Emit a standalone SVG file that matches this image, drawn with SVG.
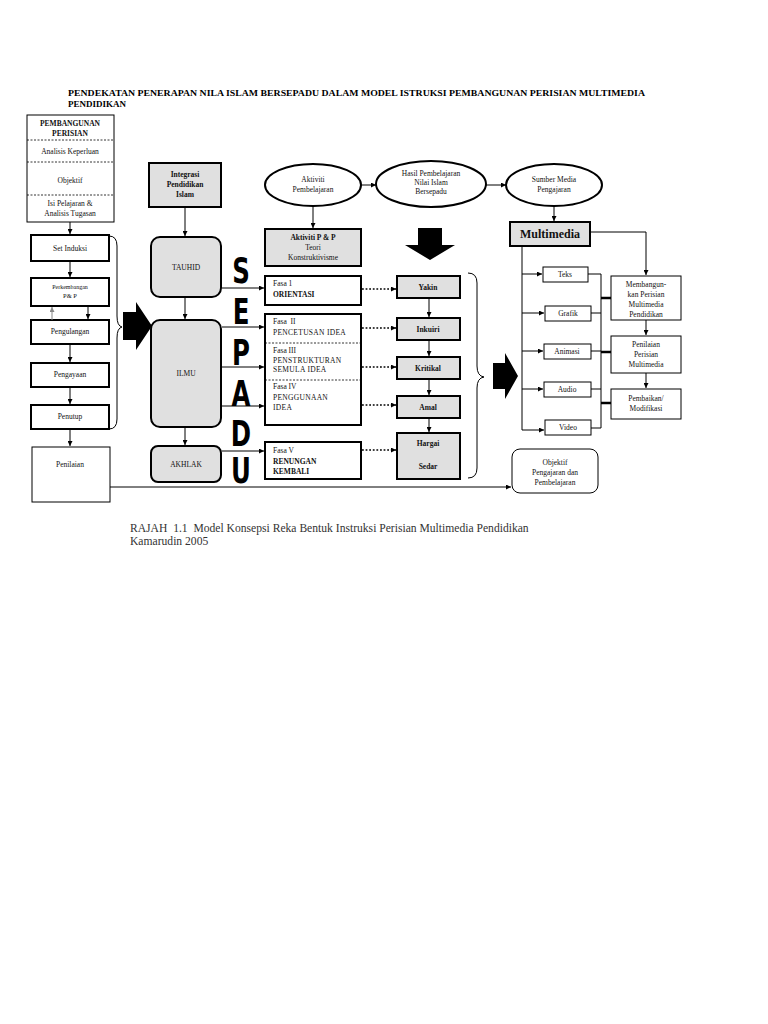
<svg xmlns="http://www.w3.org/2000/svg" width="768" height="1024" viewBox="0 0 768 1024">
<style>
.t{font-family:"Liberation Serif",serif;font-size:7.5px;fill:#111;text-anchor:middle}
.tl{font-family:"Liberation Serif",serif;font-size:7.5px;fill:#111}
.b{font-weight:bold}
.box{fill:#fff;stroke:#000;stroke-width:2}
.gbox{fill:#e0e0e0;stroke:#000;stroke-width:2}
.thin{fill:#fff;stroke:#000;stroke-width:1}
.ln{stroke:#000;stroke-width:1;fill:none}
.dash{stroke:#000;stroke-width:0.8;stroke-dasharray:2,1.5;fill:none}
.dot{stroke:#000;stroke-width:1.6;stroke-dasharray:1.8,1.8;fill:none}
.big{font-family:"DejaVu Sans",sans-serif;font-weight:bold;font-size:34px;fill:#000;text-anchor:middle}
.cap{font-family:"Liberation Serif",serif;font-size:11.6px;fill:#333;white-space:pre}
.sp{letter-spacing:0.3px}
</style>
<defs>
<marker id="ah" viewBox="0 0 8 8" refX="8" refY="4" markerWidth="5" markerHeight="5" markerUnits="userSpaceOnUse" orient="auto"><path d="M0,0 L8,4 L0,8 z" fill="#000"/></marker>
<marker id="ahg" viewBox="0 0 8 8" refX="8" refY="4" markerWidth="5" markerHeight="5" markerUnits="userSpaceOnUse" orient="auto"><path d="M0,0 L8,4 L0,8 z" fill="#888"/></marker>
</defs>
<rect width="768" height="1024" fill="#fff"/>

<g id="title">
<text x="68" y="96" font-family="Liberation Serif,serif" font-weight="bold" font-size="9" fill="#000" textLength="577" lengthAdjust="spacingAndGlyphs">PENDEKATAN PENERAPAN NILA ISLAM BERSEPADU DALAM MODEL ISTRUKSI PEMBANGUNAN PERISIAN MULTIMEDIA</text>
<text x="68" y="107" font-family="Liberation Serif,serif" font-weight="bold" font-size="9" fill="#000">PENDIDIKAN</text>
</g>

<g id="pembangunan">
<rect x="27" y="115" width="87" height="107" class="thin" stroke-width="1.5"/>
<line x1="27" y1="140" x2="114" y2="140" class="dash"/>
<line x1="27" y1="162" x2="114" y2="162" class="dash"/>
<line x1="27" y1="195" x2="114" y2="195" class="dash"/>
<text x="70" y="126" class="t b">PEMBANGUNAN</text>
<text x="70" y="136" class="t b">PERISIAN</text>
<text x="70" y="154" class="t">Analisis Keperluan</text>
<text x="70" y="183" class="t">Objektif</text>
<text x="70" y="206" class="t">Isi Pelajaran &amp;</text>
<text x="70" y="216" class="t">Analisis Tugasan</text>
</g>

<g id="set-induksi"><rect x="31" y="235" width="78" height="26" class="box"/><text x="70" y="251" class="t">Set Induksi</text></g>
<g id="perkembangan"><rect x="31" y="278" width="78" height="28" class="box"/><text x="70" y="289" class="t" style="font-size:6px">Perkembangan</text><text x="70" y="298" class="t" style="font-size:6.5px">P&amp; P</text></g>
<g id="pengulangan"><rect x="31" y="320" width="78" height="24" class="box"/><text x="70" y="334" class="t">Pengulangan</text></g>
<g id="pengayaan"><rect x="31" y="363" width="78" height="24" class="box"/><text x="70" y="377" class="t">Pengayaan</text></g>
<g id="penutup"><rect x="31" y="405" width="78" height="24" class="box"/><text x="70" y="419" class="t">Penutup</text></g>
<g id="penilaian"><rect x="32" y="447" width="78" height="55" class="thin"/><text x="70" y="467" class="t">Penilaian</text></g>

<g id="integrasi"><rect x="149" y="163" width="72" height="44" class="gbox"/><text x="185" y="177" class="t b">Integrasi</text><text x="185" y="187" class="t b">Pendidikan</text><text x="185" y="197" class="t b">Islam</text></g>
<g id="tauhid"><rect x="151" y="237" width="70" height="60" rx="9" class="gbox"/><text x="186" y="270" class="t">TAUHID</text></g>
<g id="ilmu"><rect x="151" y="320" width="70" height="107" rx="9" class="gbox"/><text x="186" y="376" class="t">ILMU</text></g>
<g id="akhlak"><rect x="151" y="446" width="70" height="36" rx="7" class="gbox"/><text x="186" y="467" class="t">AKHLAK</text></g>

<g id="sepadu">
<text class="big" transform="translate(241,283) scale(0.72,1.05)">S</text>
<text class="big" transform="translate(241,324) scale(0.72,1.05)">E</text>
<text class="big" transform="translate(241,365) scale(0.72,1.05)">P</text>
<text class="big" transform="translate(241,406) scale(0.72,1.05)">A</text>
<text class="big" transform="translate(241,446) scale(0.72,1.05)">D</text>
<text class="big" transform="translate(241,483) scale(0.72,1.05)">U</text>
</g>

<g id="aktiviti-pembelajaran"><ellipse cx="313" cy="185" rx="48" ry="21" fill="#fff" stroke="#000" stroke-width="2"/><text x="313" y="182" class="t">Aktiviti</text><text x="313" y="192" class="t">Pembelajaran</text></g>
<g id="hasil"><ellipse cx="431" cy="184" rx="55" ry="23" fill="#fff" stroke="#000" stroke-width="2"/><text x="431" y="176" class="t">Hasil Pembelajaran</text><text x="431" y="185" class="t">Nilai Islam</text><text x="431" y="194" class="t">Bersepadu</text></g>
<g id="sumber"><ellipse cx="554" cy="185" rx="48" ry="21" fill="#fff" stroke="#000" stroke-width="2"/><text x="554" y="182" class="t">Sumber Media</text><text x="554" y="192" class="t">Pengajaran</text></g>

<g id="aktiviti-pp"><rect x="265" y="229" width="96" height="37" class="gbox"/><text x="313" y="240" class="t b">Aktiviti P &amp; P</text><text x="313" y="250" class="t">Teori</text><text x="313" y="260" class="t">Konstruktivisme</text></g>

<g id="fasa1"><rect x="265" y="276" width="96" height="29" class="box"/><text x="273" y="286" class="tl">Fasa 1</text><text x="273" y="297" class="tl b">ORIENTASI</text></g>
<g id="fasa2-4"><rect x="265" y="314" width="96" height="111" class="box"/>
<line x1="265" y1="343" x2="361" y2="343" class="dash"/>
<line x1="265" y1="380" x2="361" y2="380" class="dash"/>
<text x="273" y="324" class="tl" style="white-space:pre">Fasa  II</text><text x="273" y="335" class="tl sp">PENCETUSAN IDEA</text>
<text x="273" y="353" class="tl">Fasa III</text><text x="273" y="363" class="tl sp">PENSTRUKTURAN</text><text x="273" y="372" class="tl sp">SEMULA IDEA</text>
<text x="273" y="389" class="tl">Fasa IV</text><text x="273" y="400" class="tl sp">PENGGUNAAN</text><text x="273" y="410" class="tl sp">IDEA</text>
</g>
<g id="fasa5"><rect x="265" y="442" width="96" height="37" class="box"/><text x="273" y="453" class="tl">Fasa V</text><text x="273" y="464" class="tl b">RENUNGAN</text><text x="273" y="474" class="tl b">KEMBALI</text></g>

<g id="bigdown"><polygon points="418,228 442,228 442,245 455,245 430,260 405,245 418,245" fill="#000"/></g>

<g id="yakin"><rect x="397" y="276" width="63" height="22" class="gbox"/><text x="428" y="290" class="t b">Yakin</text></g>
<g id="inkuiri"><rect x="397" y="318" width="63" height="22" class="gbox"/><text x="428" y="332" class="t b">Inkuiri</text></g>
<g id="kritikal"><rect x="397" y="357" width="63" height="22" class="gbox"/><text x="428" y="371" class="t b">Kritikal</text></g>
<g id="amal"><rect x="397" y="396" width="63" height="22" class="gbox"/><text x="428" y="410" class="t b">Amal</text></g>
<g id="hargai"><rect x="397" y="433" width="63" height="46" class="gbox"/><text x="428" y="446" class="t b">Hargai</text><text x="428" y="469" class="t b">Sedar</text></g>

<g id="multimedia"><rect x="510" y="222" width="80" height="24" class="gbox"/><text x="550" y="238" class="t b" style="font-size:12px">Multimedia</text></g>
<g id="teks"><rect x="543" y="267" width="45" height="15" class="thin"/><text x="565" y="277" class="t">Teks</text></g>
<g id="grafik"><rect x="545" y="306" width="46" height="15" class="thin"/><text x="568" y="316" class="t">Grafik</text></g>
<g id="animasi"><rect x="544" y="344" width="47" height="15" class="thin"/><text x="567" y="354" class="t">Animasi</text></g>
<g id="audio"><rect x="544" y="382" width="47" height="15" class="thin"/><text x="567" y="392" class="t">Audio</text></g>
<g id="video"><rect x="545" y="420" width="46" height="15" class="thin"/><text x="568" y="430" class="t">Video</text></g>

<g id="membangun"><rect x="611" y="276" width="70" height="44" class="thin"/><text x="646" y="287" class="t">Membangun-</text><text x="646" y="297" class="t">kan Perisian</text><text x="646" y="307" class="t">Multimedia</text><text x="646" y="317" class="t">Pendidikan</text></g>
<g id="penilaian-perisian"><rect x="611" y="336" width="70" height="37" class="thin"/><text x="646" y="347" class="t">Penilaian</text><text x="646" y="357" class="t">Perisian</text><text x="646" y="367" class="t">Multimedia</text></g>
<g id="pembaikan"><rect x="611" y="389" width="70" height="30" class="thin"/><text x="646" y="401" class="t">Pembaikan/</text><text x="646" y="411" class="t">Modifikasi</text></g>

<g id="objektif-pp"><rect x="512" y="449" width="86" height="44" rx="8" class="thin"/><text x="555" y="465" class="t">Objektif</text><text x="555" y="475" class="t">Pengajaran dan</text><text x="555" y="485" class="t">Pembelajaran</text></g>

<g id="connectors">
<line x1="70" y1="222" x2="70" y2="234" class="ln" marker-end="url(#ah)"/>
<line x1="70" y1="261" x2="70" y2="277" class="ln" marker-end="url(#ah)"/>
<line x1="52" y1="320" x2="52" y2="307" stroke="#888" stroke-width="1" marker-end="url(#ahg)"/>
<line x1="88" y1="306" x2="88" y2="319" class="ln" marker-end="url(#ah)"/>
<line x1="70" y1="344" x2="70" y2="362" class="ln" marker-end="url(#ah)"/>
<line x1="70" y1="387" x2="70" y2="404" class="ln" marker-end="url(#ah)"/>
<line x1="70" y1="429" x2="70" y2="446" class="ln" marker-end="url(#ah)"/>
<path d="M109,236 Q117,236 117,246 L117,316 Q117,326 122,327 Q117,328 117,338 L117,419 Q117,429 109,429" class="ln" stroke-width="1.5"/>
<polygon points="123,312 136,312 136,302 152,326 136,350 136,340 123,340" fill="#000"/>
<line x1="110" y1="487" x2="511" y2="487" class="ln" stroke-width="1.5" marker-end="url(#ah)"/>
<line x1="185" y1="207" x2="185" y2="236" class="ln" marker-end="url(#ah)"/>
<line x1="185" y1="297" x2="185" y2="319" class="ln" marker-end="url(#ah)"/>
<line x1="185" y1="427" x2="185" y2="445" class="ln" marker-end="url(#ah)"/>
<line x1="222" y1="288" x2="264" y2="288" class="ln" marker-end="url(#ah)"/>
<line x1="222" y1="327" x2="264" y2="327" class="ln" marker-end="url(#ah)"/>
<line x1="222" y1="367" x2="264" y2="367" class="ln" marker-end="url(#ah)"/>
<line x1="222" y1="406" x2="264" y2="406" class="ln" marker-end="url(#ah)"/>
<line x1="222" y1="451" x2="264" y2="451" class="ln" marker-end="url(#ah)"/>
<line x1="362" y1="289" x2="396" y2="289" class="dot" marker-end="url(#ah)"/>
<line x1="362" y1="328" x2="396" y2="328" class="dot" marker-end="url(#ah)"/>
<line x1="362" y1="367" x2="396" y2="367" class="dot" marker-end="url(#ah)"/>
<line x1="362" y1="405" x2="396" y2="405" class="dot" marker-end="url(#ah)"/>
<line x1="362" y1="450" x2="396" y2="450" class="dot" marker-end="url(#ah)"/>
<line x1="429" y1="298" x2="429" y2="317" class="ln" marker-end="url(#ah)"/>
<line x1="429" y1="340" x2="429" y2="356" class="ln" marker-end="url(#ah)"/>
<line x1="429" y1="379" x2="429" y2="395" class="ln" marker-end="url(#ah)"/>
<line x1="429" y1="418" x2="429" y2="432" class="ln" marker-end="url(#ah)"/>
<path d="M468,273 Q477,273 477,283 L477,366 Q477,376 484,377 Q477,378 477,388 L477,468 Q477,478 468,478" class="ln" stroke-width="1.5"/>
<polygon points="493,363 505,363 505,353 518,376 505,399 505,389 493,389" fill="#000"/>
<line x1="361" y1="185" x2="376" y2="185" class="ln" marker-end="url(#ah)"/>
<line x1="486" y1="185" x2="506" y2="185" class="ln" marker-end="url(#ah)"/>
<line x1="313" y1="206" x2="313" y2="228" class="ln" marker-end="url(#ah)"/>
<line x1="554" y1="206" x2="554" y2="221" class="ln" marker-end="url(#ah)"/>
<polyline points="590,232 646,232 646,275" class="ln" marker-end="url(#ah)"/>
<line x1="522" y1="246" x2="522" y2="430" class="ln"/>
<line x1="522" y1="274" x2="542" y2="274" class="ln" marker-end="url(#ah)"/>
<line x1="522" y1="313" x2="544" y2="313" class="ln" marker-end="url(#ah)"/>
<line x1="522" y1="351" x2="543" y2="351" class="ln" marker-end="url(#ah)"/>
<line x1="522" y1="389" x2="543" y2="389" class="ln" marker-end="url(#ah)"/>
<line x1="522" y1="430" x2="544" y2="430" class="ln" marker-end="url(#ah)"/>
<polyline points="588,274 601,274 601,428 591,428" class="ln"/>
<line x1="591" y1="313" x2="601" y2="313" class="ln"/>
<line x1="591" y1="351" x2="601" y2="351" class="ln"/>
<line x1="591" y1="389" x2="601" y2="389" class="ln"/>
<line x1="601" y1="298" x2="611" y2="298" stroke="#000" stroke-width="2.5"/>
<line x1="601" y1="352" x2="611" y2="352" stroke="#000" stroke-width="2.5"/>
<line x1="601" y1="403" x2="611" y2="403" stroke="#000" stroke-width="2.5"/>
<line x1="646" y1="320" x2="646" y2="335" class="ln" marker-end="url(#ah)"/>
<line x1="646" y1="373" x2="646" y2="388" class="ln" marker-end="url(#ah)"/>
</g>

<g id="caption">
<text x="130" y="532" class="cap">RAJAH  1.1  Model Konsepsi Reka Bentuk Instruksi Perisian Multimedia Pendidikan</text>
<text x="130" y="545" class="cap">Kamarudin 2005</text>
</g>
</svg>
